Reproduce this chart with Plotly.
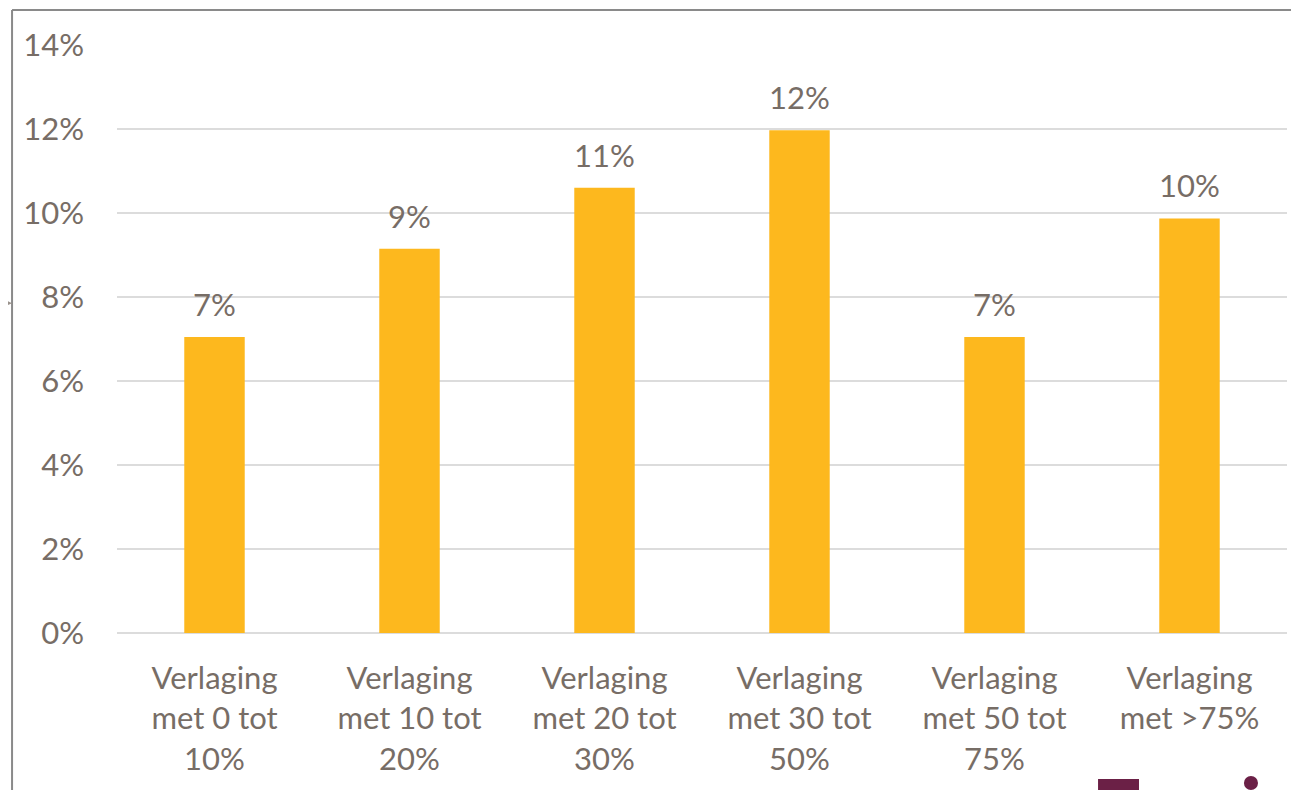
import plotly.graph_objects as go

# data
categories = [
    "Verlaging<br>met 0 tot<br>10%",
    "Verlaging<br>met 10 tot<br>20%",
    "Verlaging<br>met 20 tot<br>30%",
    "Verlaging<br>met 30 tot<br>50%",
    "Verlaging<br>met 50 tot<br>75%",
    "Verlaging<br>met >75%",
]
values = [7.05, 9.15, 10.6, 11.97, 7.05, 9.87]
labels = ["7%", "9%", "11%", "12%", "7%", "10%"]
y_ticks = [0, 2, 4, 6, 8, 10, 12, 14]
y_tick_text = [f"{v}%" for v in y_ticks]

TEXT = "#776d66"
BAR = "#FDB81E"
FRAME = "#8a8a8a"
MAROON = "#6b2046"
FS = 31

fig = go.Figure()
fig.add_trace(go.Bar(x=categories, y=values, marker_color=BAR, marker_line_width=0))

# value labels above the bars
for c, v, t in zip(categories, values, labels):
    fig.add_annotation(x=c, y=v, text=t, showarrow=False, yanchor="bottom", yshift=12,
                       font=dict(size=FS, color=TEXT))

fig.update_xaxes(showline=False, ticks="", ticklabelstandoff=24,
                 tickfont=dict(size=FS, color=TEXT))
fig.update_yaxes(range=[0, 14], tickvals=y_ticks, ticktext=y_tick_text, showline=False,
                 gridcolor="#dcdcdc", gridwidth=2, zeroline=True, zerolinecolor="#dcdcdc",
                 zerolinewidth=2, ticklabelstandoff=32, tickfont=dict(size=FS, color=TEXT))

# frame, arrow and partial logo (decoration)
fig.add_shape(type="line", xref="paper", yref="paper", x0=-0.0897, x1=-0.0897, y0=-0.3, y1=1.0595,
              line=dict(color=FRAME, width=2))
fig.add_shape(type="line", xref="paper", yref="paper", x0=-0.0897, x1=1.02, y0=1.0595, y1=1.0595,
              line=dict(color=FRAME, width=2))
fig.add_shape(type="path", xref="paper", yref="paper",
              path="M -0.1 0.571 L -0.0897 0.561 L -0.1 0.551 Z",
              fillcolor="#9a928c", line_width=0)
fig.add_shape(type="rect", xref="paper", yref="paper", x0=0.8385, x1=0.8735, y0=-0.2483, y1=-0.28,
              fillcolor=MAROON, line_width=0)
fig.add_shape(type="circle", xref="paper", yref="paper", x0=0.9632, x1=0.9752, y0=-0.2432, y1=-0.267,
              fillcolor=MAROON, line_width=0)

# the page body adds an 8px offset, so the figure is 8px smaller than the window
fig.update_layout(
    width=1291, height=782,
    margin=dict(l=109, r=12, t=37, b=157),
    bargap=0.69,
    plot_bgcolor="white", paper_bgcolor="white",
    font=dict(family="Lato, sans-serif", color=TEXT),
    showlegend=False,
)

fig.write_html("out.html")
